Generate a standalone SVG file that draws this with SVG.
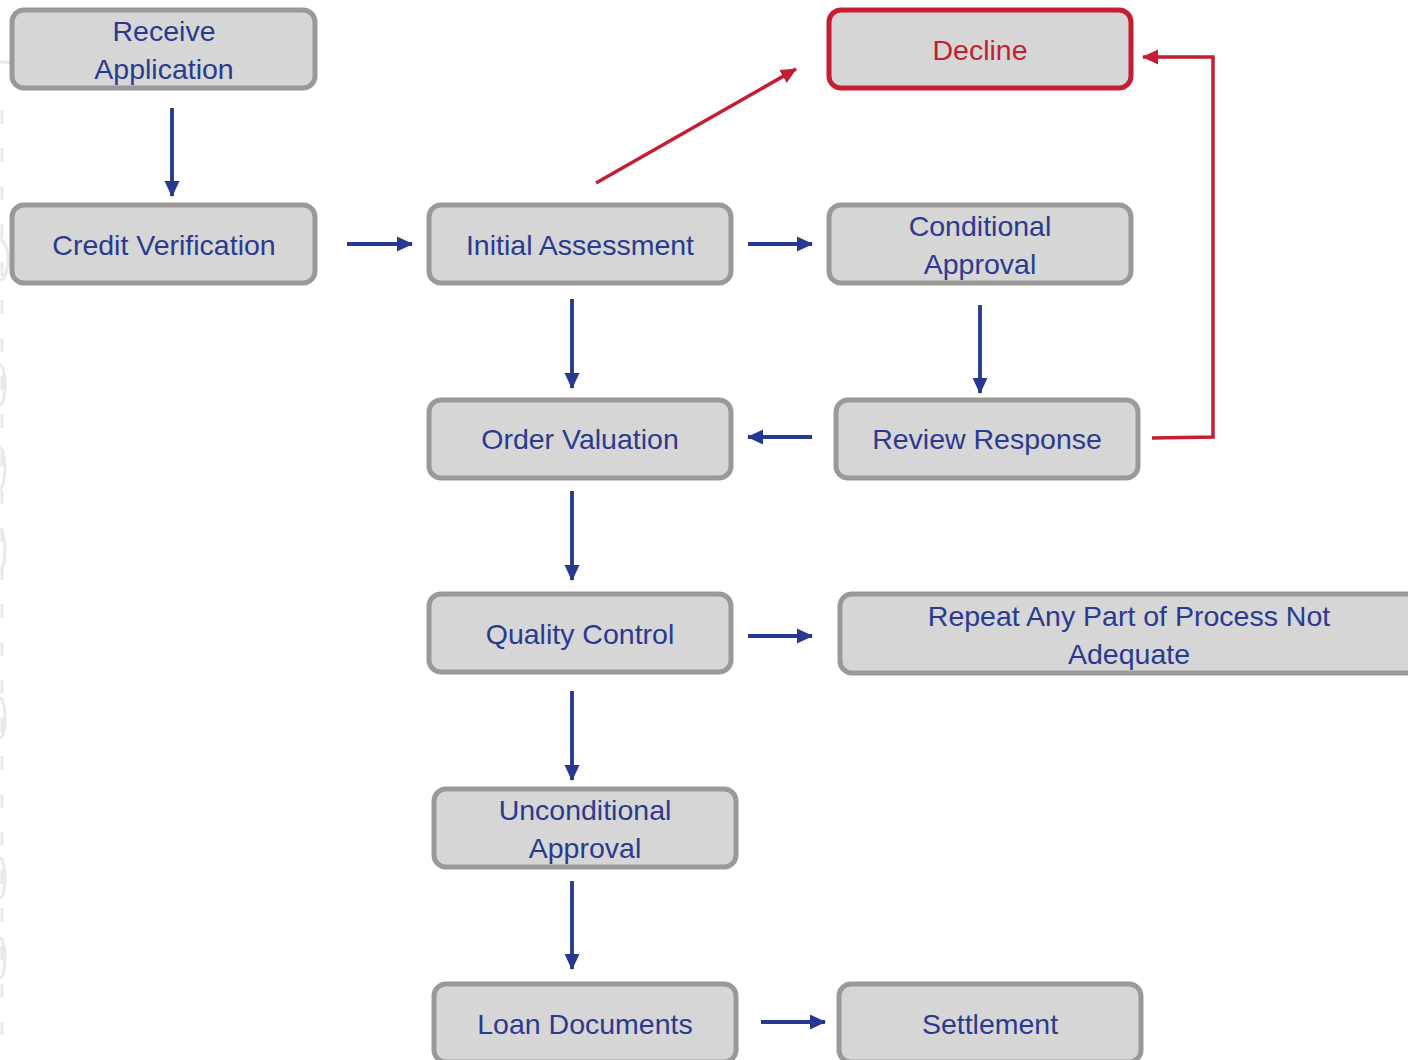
<svg xmlns="http://www.w3.org/2000/svg" width="1408" height="1060" viewBox="0 0 1408 1060">
<style>
.box{fill:#d6d6d6;stroke:#999999;stroke-width:5}
.red{fill:#d6d6d6;stroke:#c41e33;stroke-width:5}
.t{font-family:"Liberation Sans",Arial,sans-serif;font-size:28.5px;fill:#2b3a8f;text-anchor:middle}
.tr{fill:#c41e33}
.c{stroke:#24398f;stroke-width:3.8;fill:none}
.cr{stroke:#c41e33;stroke-width:3.5;fill:none}
.deco{stroke:#e8e8e8;stroke-width:3;fill:none}
</style>
<defs>
<marker id="ab" markerUnits="userSpaceOnUse" markerWidth="16" markerHeight="16" viewBox="0 0 16 16" refX="15" refY="8" orient="auto">
<path d="M0,0.5 L16,8 L0,15.5 z" fill="#24398f"/>
</marker>
<marker id="ar" markerUnits="userSpaceOnUse" markerWidth="16" markerHeight="16" viewBox="0 0 16 16" refX="15" refY="8" orient="auto">
<path d="M0,0.5 L16,8 L0,15.5 z" fill="#c41e33"/>
</marker>
</defs>
<rect width="1408" height="1060" fill="#ffffff"/>
<g id="decoration">
<path class="deco" d="M2,110 V1035" stroke-dasharray="14,24"/>
<path class="deco" d="M0,62 A28,28 0 0 1 30,90"/>
<path class="deco" d="M0,240 A8,20 0 0 1 0,280"/>
<path class="deco" d="M0,365 A5,20 0 0 1 0,405"/>
<path class="deco" d="M0,448 A5,20 0 0 1 0,488"/>
<path class="deco" d="M0,530 A5,20 0 0 1 0,570"/>
<path class="deco" d="M0,698 A5,20 0 0 1 0,738"/>
<path class="deco" d="M0,858 A5,20 0 0 1 0,898"/>
<path class="deco" d="M0,938 A5,20 0 0 1 0,978"/>
</g>
<g id="connectors">
<line class="c" x1="172" y1="108" x2="172" y2="196" marker-end="url(#ab)"/>
<line class="c" x1="347" y1="244" x2="412" y2="244" marker-end="url(#ab)"/>
<line class="c" x1="748" y1="244" x2="812" y2="244" marker-end="url(#ab)"/>
<line class="c" x1="572" y1="299" x2="572" y2="388" marker-end="url(#ab)"/>
<line class="cr" x1="596" y1="183" x2="796" y2="69" marker-end="url(#ar)"/>
<line class="c" x1="980" y1="305" x2="980" y2="393" marker-end="url(#ab)"/>
<line class="c" x1="812" y1="437" x2="748" y2="437" marker-end="url(#ab)"/>
<polyline class="cr" points="1152,438 1213,437 1213,57 1143,57" marker-end="url(#ar)"/>
<line class="c" x1="572" y1="491" x2="572" y2="580" marker-end="url(#ab)"/>
<line class="c" x1="748" y1="636" x2="812" y2="636" marker-end="url(#ab)"/>
<line class="c" x1="572" y1="691" x2="572" y2="780" marker-end="url(#ab)"/>
<line class="c" x1="572" y1="881" x2="572" y2="969" marker-end="url(#ab)"/>
<line class="c" x1="761" y1="1022" x2="825" y2="1022" marker-end="url(#ab)"/>
</g>
<g id="receive-application">
<rect class="box" x="12" y="10" width="303" height="78" rx="12"/>
<text class="t" x="164" y="41">Receive</text>
<text class="t" x="164" y="79">Application</text>
</g>
<g id="credit-verification">
<rect class="box" x="12" y="205" width="303" height="78" rx="12"/>
<text class="t" x="164" y="255">Credit Verification</text>
</g>
<g id="initial-assessment">
<rect class="box" x="429" y="205" width="302" height="78" rx="12"/>
<text class="t" x="580" y="255">Initial Assessment</text>
</g>
<g id="decline">
<rect class="red" x="829" y="10" width="302" height="78" rx="12"/>
<text class="t tr" x="980" y="60">Decline</text>
</g>
<g id="conditional-approval">
<rect class="box" x="829" y="205" width="302" height="78" rx="12"/>
<text class="t" x="980" y="236">Conditional</text>
<text class="t" x="980" y="274">Approval</text>
</g>
<g id="order-valuation">
<rect class="box" x="429" y="400" width="302" height="78" rx="12"/>
<text class="t" x="580" y="449">Order Valuation</text>
</g>
<g id="review-response">
<rect class="box" x="836" y="400" width="302" height="78" rx="12"/>
<text class="t" x="987" y="449">Review Response</text>
</g>
<g id="quality-control">
<rect class="box" x="429" y="594" width="302" height="78" rx="12"/>
<text class="t" x="580" y="644">Quality Control</text>
</g>
<g id="repeat">
<rect class="box" x="840" y="594" width="580" height="79" rx="12"/>
<text class="t" x="1129" y="626">Repeat Any Part of Process Not</text>
<text class="t" x="1129" y="664">Adequate</text>
</g>
<g id="unconditional-approval">
<rect class="box" x="434" y="789" width="302" height="78" rx="12"/>
<text class="t" x="585" y="820">Unconditional</text>
<text class="t" x="585" y="858">Approval</text>
</g>
<g id="loan-documents">
<rect class="box" x="434" y="984" width="302" height="78" rx="12"/>
<text class="t" x="585" y="1034">Loan Documents</text>
</g>
<g id="settlement">
<rect class="box" x="839" y="984" width="302" height="78" rx="12"/>
<text class="t" x="990" y="1034">Settlement</text>
</g>
</svg>
